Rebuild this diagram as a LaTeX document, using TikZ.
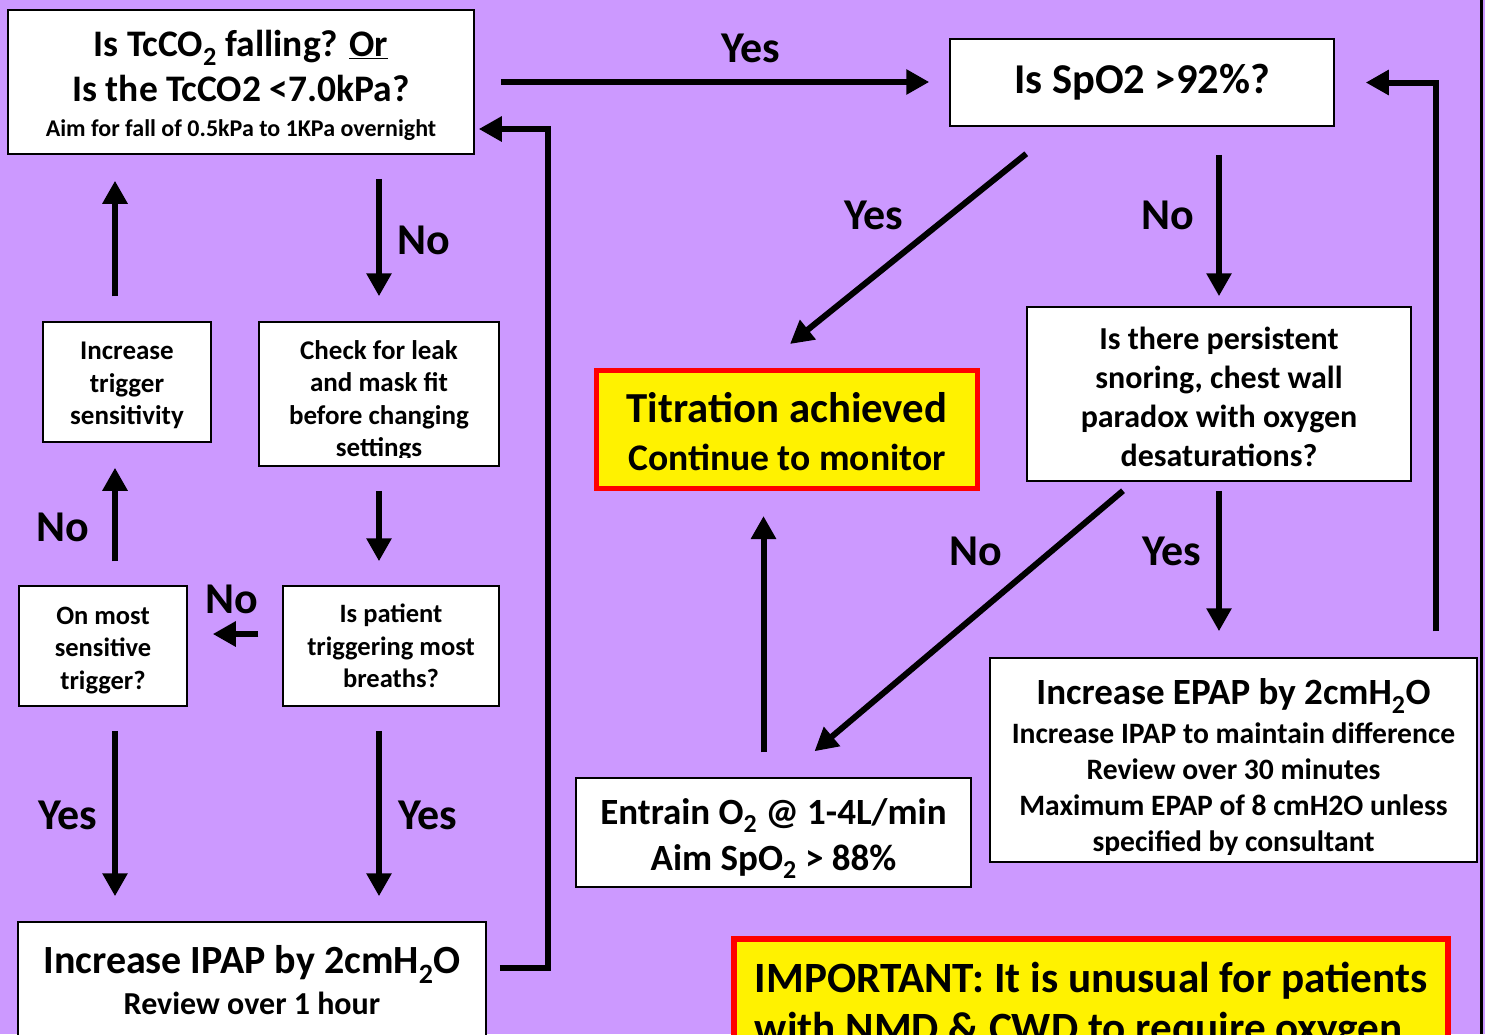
\documentclass[tikz,border=0pt]{standalone}
\usepackage{fontspec}
\setmainfont{Carlito}
\usetikzlibrary{arrows.meta,calc}
\definecolor{lilac}{RGB}{204,153,255}
\newcommand\setfs[2]{\fontsize{#1}{#2}\selectfont}
% extra room above the first line of a node text
\newcommand\headroom[1]{\rule{0pt}{\dimexpr\fontcharht\font`\l+#1pt\relax}}
\begin{document}
\begin{tikzpicture}[x=1pt,y=-1pt,
  box/.style={draw=black,line width=1.5pt,fill=white,inner sep=0pt,align=center,font=\bfseries},
  alert/.style={draw=red,line width=5pt,fill=yellow,inner sep=0pt,font=\bfseries},
  flow/.style={line width=6pt,-{Triangle[width=24pt,length=23pt]}},
  lbl/.style={anchor=base,inner sep=0pt,font=\bfseries\setfs{44}{50}},
]
\clip (0,0) rectangle (1485,1034);
\fill[lilac] (0,0) rectangle (1485,1034);
\draw[line width=3pt] (1481.5,0) -- (1481.5,1034);

% decision and action boxes
\node[box,minimum width=466,minimum height=144,font=\bfseries\setfs{37.5}{45}] (q1) at (241,82)
  {\headroom{7}Is TcCO\textsubscript{2} falling? \underline{Or}\\Is the TcCO2 <7.0kPa?\\[-10pt]{\setfs{24}{28}Aim for fall of 0.5kPa to 1KPa overnight}};
\node[box,minimum width=384,minimum height=87,font=\bfseries\setfs{42.5}{48}] (q2) at (1142,82.5) {Is SpO2 >92\%?};
\node[box,minimum width=168,minimum height=120,font=\bfseries\setfs{27}{32.5}] (inc) at (127,382)
  {\headroom{6}Increase\\trigger\\sensitivity};
\node[box,minimum width=240,minimum height=144,font=\bfseries\setfs{27}{32.5}] (leak) at (379,394)
  {\headroom{14}Check for leak\\and mask fit\\before changing\\settings};
\fill[white] ($(leak.south west)+(1.5,-9)$) rectangle ($(leak.south east)+(-1.5,-1.5)$);
\node[box,minimum width=168,minimum height=120,font=\bfseries\setfs{26.5}{32.5}] (onmost) at (103,646)
  {\headroom{7}On most\\sensitive\\trigger?};
\node[box,minimum width=216,minimum height=120,font=\bfseries\setfs{26.5}{32.5}] (trig) at (391,646)
  {Is patient\\triggering most\\breaths?};
\node[box,minimum width=468,minimum height=116,font=\bfseries\setfs{40}{44}] (ipap) at (252,980)
  {Increase IPAP by 2cmH\textsubscript{2}O\\[-3pt]{\setfs{32}{36}Review over 1 hour}};
\node[alert,align=center,minimum width=381,minimum height=118,font=\bfseries\setfs{42.8}{48}] (tit) at (787,429.5)
  {\headroom{4}Titration achieved\\{\setfs{37.6}{44}Continue to monitor}};
\node[box,minimum width=384,minimum height=174,font=\bfseries\setfs{32}{39}] (snore) at (1219,394)
  {\headroom{6}Is there persistent\\snoring, chest wall\\paradox with oxygen\\desaturations?};
\node[box,minimum width=395,minimum height=109,font=\bfseries\setfs{37}{46}] (ent) at (773.5,832.5)
  {\headroom{12}Entrain O\textsubscript{2} @ 1-4L/min\\Aim SpO\textsubscript{2} > 88\%};
\node[box,minimum width=487,minimum height=204,font=\bfseries\setfs{29.6}{36}] (epap) at (1233.5,760)
  {{\setfs{37}{41}\headroom{15}Increase EPAP by 2cmH\textsubscript{2}O}\\[3pt]Increase IPAP to maintain difference\\Review over 30 minutes\\Maximum EPAP of 8 cmH2O unless\\specified by consultant};
\fill[white] ($(epap.south west)+(1.5,-8)$) rectangle ($(epap.south east)+(-1.5,-1.5)$);
\node[alert,line width=6pt,align=left,minimum width=714,minimum height=124,font=\bfseries\setfs{43.2}{50}] (imp) at (1091,1001)
  {\headroom{10}IMPORTANT: It is unusual for patients\\with NMD \& CWD to require oxygen};

% connectors
\draw[flow] ($(q1.east)+(26,0)$) -- ($(q1.east -| q2.west)+(-20,0)$);
\draw[flow] ($(leak.north |- q1.south)+(0,24)$) -- ($(leak.north)+(0,-25)$);
\draw[flow] ($(inc.north)+(-12,-25)$) -- ($(inc.north |- q1.south)+(-12,26)$);
\draw[flow] ($(leak.south)+(0,24)$) -- ($(leak.south |- trig.north)+(0,-24)$);
\draw[flow] ($(trig.west)+(-24,-12)$) -- ($(onmost.east |- trig.west)+(25,-12)$);
\draw[flow] ($(onmost.north)+(12,-24)$) -- ($(onmost.north |- inc.south)+(12,25)$);
\draw[flow] ($(onmost.south)+(12,24)$) -- ($(onmost.south |- ipap.north)+(12,-25)$);
\draw[flow] ($(trig.south)+(-12,24)$) -- ($(trig.south |- ipap.north)+(-12,-25)$);
\draw[flow] ($(ipap.north east)+(13,47)$) -| ($(q1.east)+(73,47)$) -- ($(q1.east)+(4,47)$);
\draw[flow] ($(q2.south west)+(77,27)$) -- ($(tit.north)+(3,-24)$);
\draw[flow] ($(snore.north |- q2.south)+(0,28)$) -- ($(snore.north)+(0,-10)$);
\draw[flow] ($(snore.south)+(-96,9)$) -- ($(ent.north)+(41,-26)$);
\draw[flow] ($(snore.south)+(0,9)$) -- ($(snore.south |- epap.north)+(0,-26)$);
\draw[flow] ($(ent.north)+(-10,-25)$) -- ($(ent.north |- tit.south)+(-10,25)$);
\draw[flow] ($(epap.north east)+(-42,-26)$) |- ($(q2.east)+(31,0)$);

% branch labels
\node[lbl] (l1) at (751,62) {Yes};
\node[lbl] (l2) at (424,254) {No};
\node[lbl] (l3) at (232,613) {No};
\node[lbl] (l4) at (63,541) {No};
\node[lbl] (l5) at (68,829) {Yes};
\node[lbl] (l6) at (428,829) {Yes};
\node[lbl] (l7) at (874,229) {Yes};
\node[lbl] (l8) at (1168,229) {No};
\node[lbl] (l9) at (976,565) {No};
\node[lbl] (l10) at (1172,565) {Yes};
\end{tikzpicture}
\end{document}
